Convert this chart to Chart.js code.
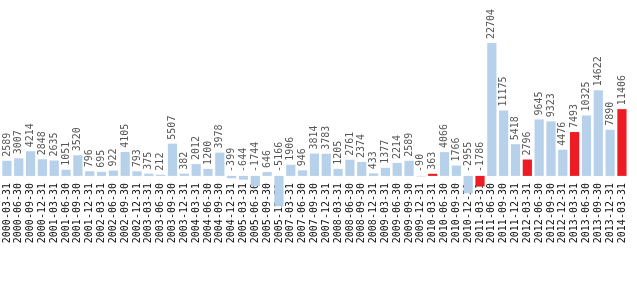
<!DOCTYPE html>
<html><head><meta charset="utf-8">
<script src="https://cdn.jsdelivr.net/npm/chart.js@4/dist/chart.umd.min.js"></script>
<style>html,body{margin:0;padding:0;background:#fff}#wrap{width:637px;height:306px}</style>
</head><body><div id="wrap"><canvas id="c" width="637" height="306"></canvas></div>
<script>
const categories = [
  '2000-03-31','2000-06-30','2000-09-30','2000-12-31',
  '2001-03-31','2001-06-30','2001-09-30','2001-12-31',
  '2002-03-31','2002-06-30','2002-09-30','2002-12-31',
  '2003-03-31','2003-06-30','2003-09-30','2003-12-31',
  '2004-03-31','2004-06-30','2004-09-30','2004-12-31',
  '2005-03-31','2005-06-30','2005-09-30','2005-12-31',
  '2007-03-31','2007-06-30','2007-09-30','2007-12-31',
  '2008-03-31','2008-06-30','2008-09-30','2008-12-31',
  '2009-03-31','2009-06-30','2009-09-30','2009-12-31',
  '2010-03-31','2010-06-30','2010-09-30','2010-12-31',
  '2011-03-31','2011-06-30','2011-09-30','2011-12-31',
  '2012-03-31','2012-06-30','2012-09-30','2012-12-31',
  '2013-03-31','2013-06-30','2013-09-30','2013-12-31',
  '2014-03-31'
];
const values = [
  2589, 3007, 4214, 2848,
  2635, 1051, 3520, 796,
  695, 922, 4105, 793,
  375, 212, 5507, 382,
  2012, 1200, 3978, -399,
  -644, -1744, 646, -5166,
  1906, 946, 3814, 3783,
  1205, 2761, 2374, 433,
  1377, 2214, 2589, -90,
  363, 4066, 1766, -2955,
  -1786, 22704, 11175, 5418,
  2796, 9645, 9323, 4476,
  7493, 10325, 14622, 7890,
  11406
];
const highlighted = ['2010-03-31','2011-03-31','2012-03-31','2013-03-31','2014-03-31'];

const barColor = '#b8d1ea';
const highlightColor = '#ed1c24';
const colors = categories.map(c => highlighted.includes(c) ? highlightColor : barColor);

const valueLabels = {
  id: 'valueLabels',
  afterDatasetsDraw(chart) {
    const ctx = chart.ctx;
    const meta = chart.getDatasetMeta(0);
    ctx.save();
    ctx.font = '10px "DejaVu Sans Mono", monospace';
    ctx.fillStyle = '#555555';
    ctx.textAlign = 'left';
    ctx.textBaseline = 'middle';
    meta.data.forEach((el, i) => {
      const v = values[i];
      const y = v >= 0 ? el.y : el.base;
      ctx.save();
      ctx.translate(el.x, y - 4);
      ctx.rotate(-Math.PI / 2);
      ctx.fillText(String(v), 0, 0);
      ctx.restore();
    });
    ctx.restore();
  }
};

new Chart(document.getElementById('c'), {
  type: 'bar',
  data: {
    labels: categories,
    datasets: [{
      data: values,
      backgroundColor: colors,
      borderWidth: 0,
      barPercentage: 0.78,
      categoryPercentage: 1.0,
      clip: false
    }]
  },
  options: {
    responsive: false,
    devicePixelRatio: 1,
    animation: false,
    layout: { padding: { top: 43, left: 1, right: 6, bottom: 0 } },
    plugins: { legend: { display: false }, tooltip: { enabled: false } },
    scales: {
      x: {
        z: 1,
        grid: { display: false, drawTicks: false },
        border: { display: false },
        ticks: {
          autoSkip: false,
          maxRotation: 90,
          minRotation: 90,
          padding: 3,
          color: '#111111',
          font: { family: '"DejaVu Sans Mono", monospace', size: 10 }
        },
        afterFit(s) { s.height = 126; }
      },
      y: {
        display: false,
        min: -700,
        max: 22704
      }
    }
  },
  plugins: [valueLabels]
});
</script>
</body></html>
